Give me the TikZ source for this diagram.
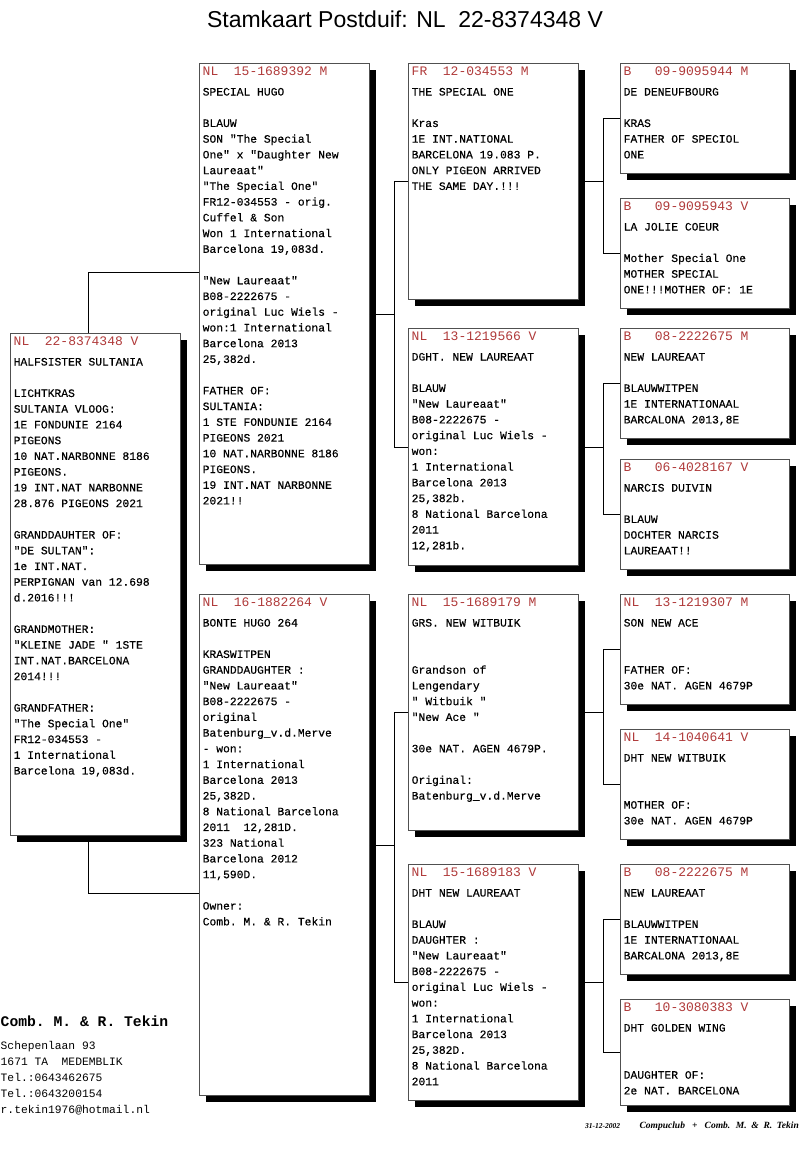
\documentclass[tikz,border=0pt]{standalone}
\usepackage{fontspec}
\usetikzlibrary{shadows}
\setmainfont{Liberation Serif}
\setmonofont{Liberation Mono}
\newfontfamily\titlefont{Liberation Sans}
\newfontfamily\cardfont[FakeBold=0.3]{Liberation Mono}
\definecolor{ringred}{HTML}{B03A3A}
\definecolor{boxgray}{HTML}{505050}

\begin{document}
\begin{tikzpicture}[x=1pt,y=-1pt,
  card/.style={draw=boxgray, line width=0.8pt, fill=white, anchor=north west, inner sep=0pt,
    drop shadow={shadow xshift=7pt, shadow yshift=-7pt, opacity=1, fill=black}},
  ring/.style={anchor=base west, inner sep=0pt, text=ringred, font=\fontsize{13}{15}\selectfont\ttfamily},
  info/.style={anchor=base west, inner sep=0pt, text width=166pt,
    font=\fontsize{11.33}{15.73}\selectfont\cardfont,
    execute at begin node={\spaceskip=0.6em\xspaceskip=0.6em\relax}},
  link/.style={draw=black, line width=0.8pt}]
\fill[white] (0,0) rectangle (800,1149);
\useasboundingbox (0,0) rectangle (800,1149);

\node[anchor=base, inner sep=0pt, font=\titlefont\fontsize{23}{26}\selectfont] (title) at (405,27) {Stamkaart Postduif: NL~~22-8374348 V};

% pigeon itself
\node[card, minimum width=170pt, minimum height=502pt] (subj) at (10,333) {};
\node[ring] (subjring) at ([shift={(3.5pt,-12pt)}]subj.north west) {NL~~22-8374348 V};
\node[info] (subjinfo) at ([shift={(3.5pt,-32.5pt)}]subj.north west) {HALFSISTER SULTANIA\\ ~\\ LICHTKRAS\\ SULTANIA VLOOG:\\ 1E FONDUNIE 2164\\ PIGEONS\\ 10 NAT.NARBONNE 8186\\ PIGEONS.\\ 19 INT.NAT NARBONNE\\ 28.876 PIGEONS 2021\\ ~\\ GRANDDAUHTER OF:\\ "DE SULTAN":\\ 1e INT.NAT.\\ PERPIGNAN van 12.698\\ d.2016!!!\\ ~\\ GRANDMOTHER:\\ "KLEINE JADE~" 1STE\\ INT.NAT.BARCELONA\\ 2014!!!\\ ~\\ GRANDFATHER:\\ "The Special One"\\ FR12-034553 -\\ 1 International\\ Barcelona 19,083d.};

% parents
\node[card, minimum width=170pt, minimum height=501pt] (sire) at (199,63) {};
\node[ring] (sirering) at ([shift={(3.5pt,-12pt)}]sire.north west) {NL~~15-1689392 M};
\node[info] (sireinfo) at ([shift={(3.5pt,-32.5pt)}]sire.north west) {SPECIAL HUGO\\ ~\\ BLAUW\\ SON "The Special\\ One" x "Daughter New\\ Laureaat"\\ "The Special One"\\ FR12-034553 - orig.\\ Cuffel \& Son\\ Won 1 International\\ Barcelona 19,083d.\\ ~\\ "New Laureaat"\\ B08-2222675 -\\ original Luc Wiels -\\ won:1 International\\ Barcelona 2013\\ 25,382d.\\ ~\\ FATHER OF:\\ SULTANIA:\\ 1 STE FONDUNIE 2164\\ PIGEONS 2021\\ 10 NAT.NARBONNE 8186\\ PIGEONS.\\ 19 INT.NAT NARBONNE\\ 2021!!};

\node[card, minimum width=170pt, minimum height=501pt] (dam) at (199,594) {};
\node[ring] (damring) at ([shift={(3.5pt,-12pt)}]dam.north west) {NL~~16-1882264 V};
\node[info] (daminfo) at ([shift={(3.5pt,-32.5pt)}]dam.north west) {BONTE HUGO 264\\ ~\\ KRASWITPEN\\ GRANDDAUGHTER :\\ "New Laureaat"\\ B08-2222675 -\\ original\\ Batenburg\_v.d.Merve\\ - won:\\ 1 International\\ Barcelona 2013\\ 25,382D.\\ 8 National Barcelona\\ 2011~ 12,281D.\\ 323 National\\ Barcelona 2012\\ 11,590D.\\ ~\\ Owner:\\ Comb. M. \& R. Tekin};

% grandparents
\node[card, minimum width=170pt, minimum height=236pt] (gpa) at (408,63) {};
\node[ring] (gparing) at ([shift={(3.5pt,-12pt)}]gpa.north west) {FR~~12-034553 M};
\node[info] (gpainfo) at ([shift={(3.5pt,-32.5pt)}]gpa.north west) {THE SPECIAL ONE\\ ~\\ Kras\\ 1E INT.NATIONAL\\ BARCELONA 19.083 P.\\ ONLY PIGEON ARRIVED\\ THE SAME DAY.!!!};

\node[card, minimum width=170pt, minimum height=237pt] (gpb) at (408,328) {};
\node[ring] (gpbring) at ([shift={(3.5pt,-12pt)}]gpb.north west) {NL~~13-1219566 V};
\node[info] (gpbinfo) at ([shift={(3.5pt,-32.5pt)}]gpb.north west) {DGHT. NEW LAUREAAT\\ ~\\ BLAUW\\ "New Laureaat"\\ B08-2222675 -\\ original Luc Wiels -\\ won:\\ 1 International\\ Barcelona 2013\\ 25,382b.\\ 8 National Barcelona\\ 2011\\ 12,281b.};

\node[card, minimum width=170pt, minimum height=236pt] (gpc) at (408,594) {};
\node[ring] (gpcring) at ([shift={(3.5pt,-12pt)}]gpc.north west) {NL~~15-1689179 M};
\node[info] (gpcinfo) at ([shift={(3.5pt,-32.5pt)}]gpc.north west) {GRS. NEW WITBUIK\\ ~\\ ~\\ Grandson of\\ Lengendary\\ "~Witbuik~"\\ "New Ace~"\\ ~\\ 30e NAT. AGEN 4679P.\\ ~\\ Original:\\ Batenburg\_v.d.Merve};

\node[card, minimum width=170pt, minimum height=236pt] (gpd) at (408,864) {};
\node[ring] (gpdring) at ([shift={(3.5pt,-12pt)}]gpd.north west) {NL~~15-1689183 V};
\node[info] (gpdinfo) at ([shift={(3.5pt,-32.5pt)}]gpd.north west) {DHT NEW LAUREAAT\\ ~\\ BLAUW\\ DAUGHTER :\\ "New Laureaat"\\ B08-2222675 -\\ original Luc Wiels -\\ won:\\ 1 International\\ Barcelona 2013\\ 25,382D.\\ 8 National Barcelona\\ 2011};

% great-grandparents
\node[card, minimum width=169pt, minimum height=110pt] (ggpa) at (620,63) {};
\node[ring] (ggparing) at ([shift={(3.5pt,-12pt)}]ggpa.north west) {B~~~09-9095944 M};
\node[info] (ggpainfo) at ([shift={(3.5pt,-32.5pt)}]ggpa.north west) {DE DENEUFBOURG\\ ~\\ KRAS\\ FATHER OF SPECIOL\\ ONE};

\node[card, minimum width=169pt, minimum height=110pt] (ggpb) at (620,198) {};
\node[ring] (ggpbring) at ([shift={(3.5pt,-12pt)}]ggpb.north west) {B~~~09-9095943 V};
\node[info] (ggpbinfo) at ([shift={(3.5pt,-32.5pt)}]ggpb.north west) {LA JOLIE COEUR\\ ~\\ Mother Special One\\ MOTHER SPECIAL\\ ONE!!!MOTHER OF: 1E};

\node[card, minimum width=169pt, minimum height=110pt] (ggpc) at (620,328) {};
\node[ring] (ggpcring) at ([shift={(3.5pt,-12pt)}]ggpc.north west) {B~~~08-2222675 M};
\node[info] (ggpcinfo) at ([shift={(3.5pt,-32.5pt)}]ggpc.north west) {NEW LAUREAAT\\ ~\\ BLAUWWITPEN\\ 1E INTERNATIONAAL\\ BARCALONA 2013,8E};

\node[card, minimum width=169pt, minimum height=110pt] (ggpd) at (620,459) {};
\node[ring] (ggpdring) at ([shift={(3.5pt,-12pt)}]ggpd.north west) {B~~~06-4028167 V};
\node[info] (ggpdinfo) at ([shift={(3.5pt,-32.5pt)}]ggpd.north west) {NARCIS DUIVIN\\ ~\\ BLAUW\\ DOCHTER NARCIS\\ LAUREAAT!!};

\node[card, minimum width=169pt, minimum height=110pt] (ggpe) at (620,594) {};
\node[ring] (ggpering) at ([shift={(3.5pt,-12pt)}]ggpe.north west) {NL~~13-1219307 M};
\node[info] (ggpeinfo) at ([shift={(3.5pt,-32.5pt)}]ggpe.north west) {SON NEW ACE\\ ~\\ ~\\ FATHER OF:\\ 30e NAT. AGEN 4679P};

\node[card, minimum width=169pt, minimum height=110pt] (ggpf) at (620,729) {};
\node[ring] (ggpfring) at ([shift={(3.5pt,-12pt)}]ggpf.north west) {NL~~14-1040641 V};
\node[info] (ggpfinfo) at ([shift={(3.5pt,-32.5pt)}]ggpf.north west) {DHT NEW WITBUIK\\ ~\\ ~\\ MOTHER OF:\\ 30e NAT. AGEN 4679P};

\node[card, minimum width=169pt, minimum height=110pt] (ggpg) at (620,864) {};
\node[ring] (ggpgring) at ([shift={(3.5pt,-12pt)}]ggpg.north west) {B~~~08-2222675 M};
\node[info] (ggpginfo) at ([shift={(3.5pt,-32.5pt)}]ggpg.north west) {NEW LAUREAAT\\ ~\\ BLAUWWITPEN\\ 1E INTERNATIONAAL\\ BARCALONA 2013,8E};

\node[card, minimum width=169pt, minimum height=106pt] (ggph) at (620,999) {};
\node[ring] (ggphring) at ([shift={(3.5pt,-12pt)}]ggph.north west) {B~~~10-3080383 V};
\node[info] (ggphinfo) at ([shift={(3.5pt,-32.5pt)}]ggph.north west) {DHT GOLDEN WING\\ ~\\ ~\\ DAUGHTER OF:\\ 2e NAT. BARCELONA};

% lines
\draw[link] ([xshift=-7pt]subj.north) |- ([yshift=41.5pt]sire.west);
\draw[link] ([xshift=-7pt]subj.south) |- ([yshift=-48.5pt]dam.west);
\draw[link] (sire.east) -- ++(24.5,0) coordinate (sirefork);
\draw[link] (gpa.west) -| (sirefork) |- (gpb.west);
\draw[link] (dam.east) -- ++(24.5,0) coordinate (damfork);
\draw[link] (gpc.west) -| (damfork) |- (gpd.west);
\draw[link] (gpa.east) -- ++(25,0) coordinate (gpafork);
\draw[link] (ggpa.west) -| (gpafork) |- (ggpb.west);
\draw[link] (gpb.east) -- ++(25,0) coordinate (gpbfork);
\draw[link] (ggpc.west) -| (gpbfork) |- (ggpd.west);
\draw[link] (gpc.east) -- ++(25,0) coordinate (gpcfork);
\draw[link] (ggpe.west) -| (gpcfork) |- (ggpf.west);
\draw[link] (gpd.east) -- ++(25,0) coordinate (gpdfork);
\draw[link] (ggpg.west) -| (gpdfork) |- (ggph.west);

% owner
\node[anchor=base west, inner sep=0pt, font=\fontsize{14.7}{16}\selectfont\ttfamily\bfseries] (owner) at (0.5,1026) {Comb. M. \& R. Tekin};
\node[anchor=base west, inner sep=0pt, text width=200pt, font=\fontsize{11.3}{15.9}\selectfont\ttfamily,
  execute at begin node={\spaceskip=0.6em\xspaceskip=0.6em\relax}] (address) at (0.5,1049.5) {Schepenlaan 93\\ 1671 TA~ MEDEMBLIK\\ Tel.:0643462675\\ Tel.:0643200154\\ r.tekin1976@hotmail.nl};
\node[anchor=base west, inner sep=0pt, font=\fontsize{7.5}{8}\selectfont\bfseries\itshape] (printdate) at (585,1128) {31-12-2002};
\node[anchor=base east, inner sep=0pt, font=\fontsize{9.5}{10}\selectfont\bfseries\itshape] (printer) at (799,1128) {Compuclub~ ~+~ ~Comb.~ M.~ \&~ R.~ Tekin};
\end{tikzpicture}
\end{document}
